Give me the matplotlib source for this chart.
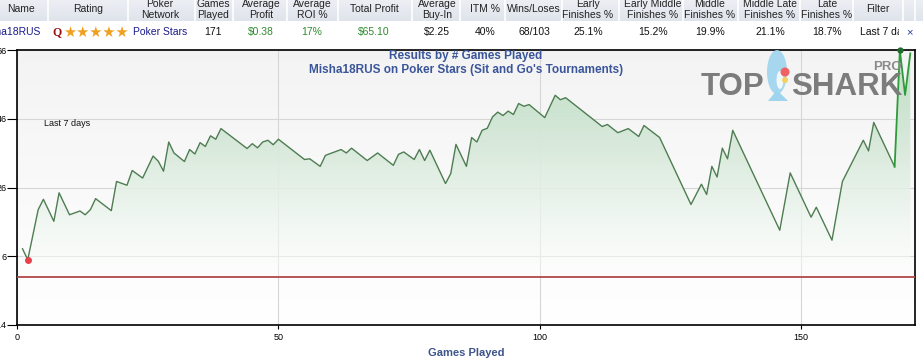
import numpy as np
import matplotlib
matplotlib.use("Agg")
import matplotlib.pyplot as plt
from matplotlib.patches import Rectangle, Polygon, Ellipse

plt.rcParams['font.family'] = ['Liberation Sans', 'DejaVu Sans']

# ---------------- data ----------------
games = [1, 2, 4, 5, 7, 8, 10, 12, 13, 14, 15, 18, 19, 21, 22, 24, 26, 27, 28, 29,
         30, 32, 33, 34, 35, 36, 37, 38, 39, 44, 45, 46, 47, 48, 49, 50, 55, 56, 58, 59,
         62, 63, 64, 67, 69, 72, 73, 74, 76, 77, 78, 79, 82, 83, 84, 86, 87, 88, 89, 90,
         91, 92, 93, 94, 95, 96, 97, 98, 101, 103, 104, 105, 112, 113, 115, 117, 119, 120, 123, 129,
         131, 132, 133, 134, 135, 136, 137, 146, 148, 152, 153, 156, 158, 162, 163, 164, 168, 169, 170, 171]
profit = [8.2, 5.0, 19.6, 22.6, 16.2, 24.5, 18.1, 19.2, 18.1, 19.6, 22.8, 19.3, 27.8, 26.7, 31.0, 28.8, 35.2, 33.7, 30.8, 39.3,
          36.1, 33.6, 37.1, 35.8, 39.1, 38.0, 41.1, 40.1, 43.2, 37.4, 38.8, 37.6, 39.3, 39.8, 38.5, 40.1, 34.2, 34.4, 32.2, 35.4,
          37.1, 36.1, 37.5, 33.9, 36.1, 32.5, 35.7, 36.4, 34.2, 37.1, 33.9, 36.9, 27.2, 30.1, 38.6, 32.2, 40.6, 39.3, 42.7, 43.3,
          46.6, 48.0, 47.0, 48.3, 47.3, 50.5, 49.7, 50.2, 46.4, 52.9, 51.6, 52.2, 43.8, 44.4, 42.0, 43.2, 40.9, 44.1, 40.6, 21.1,
          27.0, 24.0, 32.2, 29.1, 37.5, 34.4, 42.7, 13.6, 30.3, 17.4, 20.3, 10.7, 27.8, 39.8, 36.7, 45.0, 32.1, 66.0, 53.0, 65.1]
yticks = [-14, 6, 26, 46, 66]
xticks = [0, 50, 100, 150]

headers = ["Name", "Rating", "Poker\nNetwork", "Games\nPlayed", "Average\nProfit", "Average\nROI %",
           "Total Profit", "Average\nBuy-In", "ITM %", "Wins/Loses", "Early\nFinishes %",
           "Early Middle\nFinishes %", "Middle\nFinishes %", "Middle Late\nFinishes %",
           "Late\nFinishes %", "Filter"]
row_values = ["Misha18RUS", "", "Poker Stars", "171", "$0.38", "17%", "$65.10", "$2.25", "40%",
              "68/103", "25.1%", "15.2%", "19.9%", "21.1%", "18.7%", "Last 7 days"]

# ---------------- figure ----------------
W, H = 923, 362
fig = plt.figure(figsize=(W / 100, H / 100), dpi=100)
fig.patch.set_facecolor('white')

def fx(x):
    return x / W

def fy(y):
    return 1 - y / H

# ---- table ----
col_centers = [21, 88, 160, 213, 261, 312, 374, 437, 485, 534, 588, 653, 710, 770, 827, 878]
col_seps = [48, 128, 195, 233, 287, 338, 412, 460, 505, 562, 619, 683, 738, 800, 853, 903, 915]
hdr_bottom = 21
nh = 64
hdr_grad = np.zeros((nh, 1, 3))
for k, (a, b) in enumerate(zip([0.925, 0.935, 0.955], [0.875, 0.895, 0.925])):
    hdr_grad[:, 0, k] = np.linspace(a, b, nh)
hax = fig.add_axes([0, fy(hdr_bottom), 1, hdr_bottom / H])
hax.imshow(hdr_grad, aspect='auto', extent=[0, 1, 0, 1], origin='upper')
hax.set_axis_off()
for s in col_seps:
    fig.add_artist(plt.Line2D([fx(s), fx(s)], [fy(0), fy(hdr_bottom)], color='white', lw=1.2,
                              transform=fig.transFigure))
for c, h in zip(col_centers, headers):
    if "\n" in h:
        l1, l2 = h.split("\n")
        fig.text(fx(c), fy(4), l1, ha='center', va='center', fontsize=7.5, color='#222222')
        fig.text(fx(c), fy(15), l2, ha='center', va='center', fontsize=7.5, color='#222222')
    else:
        fig.text(fx(c), fy(9), h, ha='center', va='center', fontsize=7.5, color='#222222')

row_y = fy(32)
colors = ['#1a1a8a', None, '#1a1a8a', '#111111', '#2e8b2e', '#2e8b2e', '#2e8b2e', '#111111',
          '#111111', '#111111', '#111111', '#111111', '#111111', '#111111', '#111111', '#111111']
for i, (c, v) in enumerate(zip(col_centers, row_values)):
    if i == 0:
        fig.text(fx(40), row_y, v, ha='right', va='center', fontsize=7.5, color=colors[i])
    elif i == 1:
        fig.text(fx(57), row_y, "Q", ha='center', va='center', fontsize=8.5, color='#9a1010',
                 fontweight='bold', family='Liberation Serif')
        fig.text(fx(96), row_y, "★★★★★", ha='center', va='center', fontsize=10.5, color='#f0a020',
                 family='DejaVu Sans')
    elif i == 15:
        t = fig.text(fx(860), row_y, v, ha='left', va='center', fontsize=7.5, color=colors[i])
        t.set_clip_box(matplotlib.transforms.Bbox.from_extents(0, 0, 899, H))
        t.set_clip_on(True)
    else:
        fig.text(fx(c), row_y, v, ha='center', va='center', fontsize=7.5, color=colors[i])
fig.text(fx(909), row_y, "×", ha='center', va='center', fontsize=8, color='#2a3aa0')

# ---- chart ----
left, right, top, bottom = 17.3, 915, 50.3, 325
ax = fig.add_axes([fx(left), fy(bottom), (right - left) / W, (bottom - top) / H])
xmin, xmax, ymin, ymax = 0, 171.9, -14, 66
ax.set_xlim(xmin, xmax)
ax.set_ylim(ymin, ymax)

# background gradient
bg = np.linspace(0, 1, 256).reshape(-1, 1)
bg_rgb = np.zeros((256, 1, 3))
c_top = np.array([0.955, 0.955, 0.955])
c_bot = np.array([1.0, 1.0, 1.0])
for k in range(3):
    bg_rgb[:, 0, k] = c_top[k] + (c_bot[k] - c_top[k]) * bg[:, 0]
ax.imshow(bg_rgb, extent=[xmin, xmax, ymin, ymax], aspect='auto', origin='upper', zorder=0)

ax.grid(True, color='#d6d6d6', lw=0.8, zorder=1)
ax.set_axisbelow(True)

# gradient fill under the curve
g = np.array(games, dtype=float)
p = np.array(profit, dtype=float)
poly_xy = np.column_stack([np.r_[g[0], g, g[-1]], np.r_[0, p, 0]])
poly = Polygon(poly_xy, closed=True, facecolor='none', edgecolor='none')
ax.add_patch(poly)
n = 256
tt = np.linspace(0, 1, n).reshape(-1, 1)  # 0 at top (66) -> 1 at bottom (0)
fill = np.zeros((n, 1, 4))
ctop = np.array([0.76, 0.87, 0.78])
cbot = np.array([1.0, 1.0, 1.0])
for k in range(3):
    fill[:, 0, k] = ctop[k] + (cbot[k] - ctop[k]) * tt[:, 0] ** 1.2
fill[:, 0, 3] = 1.0 - 0.6 * tt[:, 0] ** 3
im = ax.imshow(fill, extent=[xmin, xmax, 0, ymax], aspect='auto', origin='upper', zorder=2)
im.set_clip_path(poly)

ax.axhline(0, color='#b04848', lw=1.3, zorder=3)
ax.plot(g[:-3], p[:-3], color='#4e7d52', lw=1.0, zorder=4)
ax.plot(g[-4:], p[-4:], color='#2f9a3a', lw=1.3, zorder=4)
imin = int(np.argmin(p))
imax = int(np.argmax(p))
ax.plot(g[imin], p[imin], 'o', color='#e8404c', ms=5, mec='none', zorder=5)
ax.plot(g[imax], p[imax], 'o', color='#1f6b2a', ms=4.5, mec='none', zorder=5, clip_on=False)

for s in ax.spines.values():
    s.set_color('black')
    s.set_linewidth(1.2)
ax.set_yticks(yticks)
ax.set_yticklabels([str(v) for v in yticks])
ax.set_xticks(xticks)
ax.tick_params(axis='y', length=7.2, width=0.8, pad=0.6, labelsize=6.5, colors='black')
ax.tick_params(axis='x', length=3, width=0.8, pad=3, labelsize=6.5, colors='black')

ax.set_xlabel("Games Played", fontsize=8, color='#3c5489', fontweight='bold', labelpad=4)

fig.text(fx(466), fy(56), "Results by # Games Played", ha='center', va='center', fontsize=8.5,
         color='#3a559a', fontweight='bold')
fig.text(fx(466), fy(70), "Misha18RUS on Poker Stars (Sit and Go's Tournaments)", ha='center',
         va='center', fontsize=8.5, color='#3a559a', fontweight='bold')
fig.text(fx(44), fy(124), "Last 7 days", ha='left', va='center', fontsize=6.5, color='#111111')

# watermark logo
fig.text(fx(701), fy(95), "TOP", ha='left', va='baseline', fontsize=22.5, fontweight='bold',
         color='#7c7c7c', zorder=1)
fig.text(fx(791), fy(95), "SHARK", ha='left', va='baseline', fontsize=22.5, fontweight='bold',
         color='#7c7c7c', zorder=1)
fig.text(fx(873), fy(70), "PRO", ha='left', va='baseline', fontsize=9.5, fontweight='bold',
         color='#8a8a8a', zorder=1)
# stylised shark icon
fig.patches.append(Ellipse((fx(777), fy(72)), 20 / W, 44 / H, angle=0, transform=fig.transFigure,
                           facecolor='#9fd4ef', edgecolor='none', alpha=0.9, zorder=1))
fig.patches.append(Polygon([(fx(768), fy(101)), (fx(777), fy(90)), (fx(788), fy(101))], closed=True,
                           transform=fig.transFigure, facecolor='#9fd4ef', edgecolor='none', zorder=1))
fig.patches.append(Ellipse((fx(780), fy(80)), 7 / W, 18 / H, transform=fig.transFigure,
                           facecolor='#eef8fd', edgecolor='none', zorder=1))
fig.patches.append(Ellipse((fx(785), fy(72)), 9 / W, 9 / H, transform=fig.transFigure,
                           facecolor='#f06262', edgecolor='none', zorder=1))
fig.patches.append(Ellipse((fx(785), fy(80)), 6 / W, 6 / H, transform=fig.transFigure,
                           facecolor='#f4d060', edgecolor='none', zorder=1))

fig.savefig("out.png", dpi=100)
